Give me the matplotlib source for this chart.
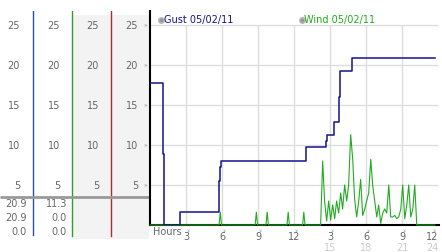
import matplotlib.pyplot as plt
from matplotlib.patches import Rectangle

# gust (mph), step series, hours of day
gust_hours = [0, 1.1, 1.16, 2.5, 5.74, 5.82, 5.93, 12.95, 14.64, 14.75,
              15.35, 15.75, 15.85, 16.85, 23.7]
gust_mph = [17.8, 8.9, 0, 1.6, 5.5, 7.3, 8.0, 9.8, 10.5, 11.3,
            12.9, 16.0, 19.2, 20.9, 20.9]

# wind (mph)
wind_hours = [0, 5.75, 5.85, 5.95, 8.75, 8.85, 8.95, 9.65, 9.75, 9.85,
              11.4, 11.5, 11.6, 12.7, 12.8, 12.9,
              14.2, 14.37, 14.53, 14.7, 14.87, 15.03, 15.2, 15.37, 15.53, 15.7,
              15.87, 16.03, 16.2, 16.37, 16.53, 16.7, 16.87, 17.03, 17.2, 17.37,
              17.53, 17.7, 17.87, 18.03, 18.2, 18.37, 18.53, 18.7, 18.87, 19.03,
              19.2, 19.37, 19.53, 19.7, 19.87, 20.03, 20.2, 20.37, 20.53, 20.7,
              20.87, 21.03, 21.2, 21.37, 21.53, 21.7, 21.87, 22.03, 22.2, 23.7]
wind_mph = [0, 0, 1.6, 0, 0, 1.6, 0, 0, 1.6, 0,
            0, 1.6, 0, 0, 1.6, 0,
            0, 8.0, 3.0, 0.5, 3.0, 0.6, 2.5, 0.8, 3.0, 1.5,
            4.0, 2.0, 5.0, 3.0, 5.0, 11.3, 8.2, 3.2, 1.0, 3.0,
            5.7, 1.2, 2.0, 3.0, 4.0, 8.2, 5.0, 3.0, 1.0, 2.5,
            0.2, 1.5, 2.0, 1.5, 5.0, 1.0, 1.0, 1.2, 0.8, 1.0,
            2.0, 5.0, 0.8, 2.5, 5.0, 1.0, 2.0, 5.0, 0, 0]

y_ticks = [5, 10, 15, 20, 25]
x_ticks = [3, 6, 9, 12, 15, 18, 21, 24]
x_labels = ['3', '6', '9', '12', '3', '6', '9', '12']
x_labels_24 = ['15', '18', '21', '24']

# summary table under the scale columns: max, current, min
gust_stats = ['20.9', '20.9', '0.0']
wind_stats = ['11.3', '0.0', '0.0']

W, H = 442, 253
NAVY = '#14148c'
GREEN = '#22aa22'
GRAY = '#666666'
YTOP = 26.75


def fx(px):
    return px / W


def fy(px):
    return 1 - px / H


fig = plt.figure(figsize=(W / 100, H / 100), dpi=100)

# left scale columns
lax = fig.add_axes([0, fy(240), fx(149), fy(12) - fy(240)])
lax.set_xlim(0, 149)
lax.set_ylim(-1.75, YTOP)
lax.axis('off')
for x0 in (72, 111):
    lax.add_patch(Rectangle((x0, -1.75), 39, 26.25 + 1.75, color='#f3f3f3', lw=0))
lax.plot([33, 33], [YTOP, -1.25], color='#2a4fa0', lw=1.0)
lax.plot([72, 72], [YTOP, -1.4], color='#339933', lw=1.0)
lax.plot([111, 111], [YTOP, -1.4], color='#aa3030', lw=1.0)
lax.plot([0, 149], [3.55, 3.55], color='#999999', lw=2.0, solid_capstyle='butt')
for v in y_ticks:
    for xr in (20, 60, 99, 138):
        lax.text(xr, v, str(v), ha='right', va='center', fontsize=7, color=GRAY)
    lax.text(145, v, '»', ha='center', va='center', fontsize=4.5, color='#888888')
for i, v in enumerate([2.75, 1.0, -0.75]):
    lax.text(27, v, gust_stats[i], ha='right', va='center', fontsize=7, color=GRAY)
    lax.text(67, v, wind_stats[i], ha='right', va='center', fontsize=7, color=GRAY)

# main chart
ax = fig.add_axes([fx(150), fy(226), fx(439) - fx(150), fy(12) - fy(226)])
ax.set_xlim(0, 24.05)
ax.set_ylim(0, YTOP)
ax.set_xticks([])
ax.set_yticks([])
for s in ('top', 'right'):
    ax.spines[s].set_visible(False)
for s in ('left', 'bottom'):
    ax.spines[s].set_linewidth(1.5)
    ax.spines[s].set_color('black')
ax.hlines(y_ticks, 0, 24, color='#dddddd', lw=1.0, zorder=0)
ax.vlines(x_ticks[:-1], 0, 25, color='#dddddd', lw=1.0, zorder=0)

ax.plot(wind_hours, wind_mph, color=GREEN, lw=0.8, zorder=3, clip_on=False)
ax.plot(gust_hours, gust_mph, color=NAVY, lw=1.1, drawstyle='steps-post', zorder=4)

# tick labels; the last one is pulled in to stay inside the picture
label_pos = x_ticks[:-1] + [23.5]
tr = ax.get_xaxis_transform()
for h, lab in zip(label_pos, x_labels):
    ax.text(h, -0.02, '»', rotation=-90, ha='center', va='center', fontsize=4.5,
            color='#888888', transform=tr, clip_on=False)
    ax.text(h, -0.052, lab, ha='center', va='center', fontsize=7, color=GRAY,
            transform=tr, clip_on=False)
for h, lab in zip(label_pos[4:], x_labels_24):
    ax.text(h, -0.104, lab, ha='center', va='center', fontsize=7, color='#cccccc',
            transform=tr, clip_on=False)
ax.text(0.25, -0.028, 'Hours', ha='left', va='center', fontsize=7, color=GRAY,
        transform=tr, clip_on=False)

# legend
for xc, lab, col in ((160.5, 'Gust 05/02/11', NAVY), (301.5, 'Wind 05/02/11', GREEN)):
    fig.lines.append(plt.Line2D([fx(xc)], [fy(20.5)], marker='o', ms=4,
                                color='#999999', mec='#bbbbbb', transform=fig.transFigure))
    fig.text(fx(xc + 3), fy(20.5), lab, ha='left', va='center', fontsize=7, color=col)

fig.savefig('out.png', dpi=100)
